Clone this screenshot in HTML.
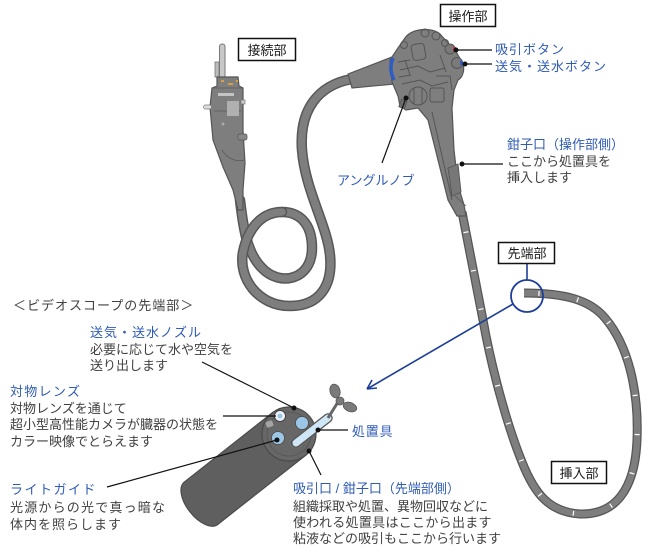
<!DOCTYPE html>
<html><head><meta charset="utf-8">
<style>
html,body{margin:0;padding:0;background:#fff;}
svg{display:block;}
text{font-family:"Liberation Sans","Noto Sans CJK JP",sans-serif;font-size:13px;}
.b{fill:#2f5bb5;}
.g{fill:#404040;}
.k{fill:#1a1a1a;}
</style></head><body>
<svg width="650" height="550" viewBox="0 0 650 550" xmlns="http://www.w3.org/2000/svg">
<!-- universal cord -->
<g fill="none" stroke-linecap="round">
<path d="M 240 200 C 243 225, 246 252, 262 268 C 280 287, 312 280, 312 248 C 312 222, 298 212, 282 212" stroke="#575757" stroke-width="10.5"/>
<path d="M 240 200 C 243 225, 246 252, 262 268 C 280 287, 312 280, 312 248 C 312 222, 298 212, 282 212" stroke="#7e7e7e" stroke-width="7.5"/>
<path d="M 282 212 C 262 212, 248 228, 243 252 C 238 278, 258 306, 290 306 C 320 306, 333 285, 330 255 C 327 225, 305 190, 302 150 C 299 110, 318 85, 352 79" stroke="#575757" stroke-width="10.5"/>
<path d="M 282 212 C 262 212, 248 228, 243 252 C 238 278, 258 306, 290 306 C 320 306, 333 285, 330 255 C 327 225, 305 190, 302 150 C 299 110, 318 85, 352 79" stroke="#7e7e7e" stroke-width="7.5"/>
</g>
<!-- insertion tube -->
<g fill="none" stroke-linecap="butt">
<path d="M 462 212 L 483 320 C 490 360, 505 420, 522 462 C 535 495, 550 512, 580 514 C 615 515, 635 490, 637 440 C 639 390, 628 345, 605 318 C 590 300, 565 293, 524 293" stroke="#555" stroke-width="9"/>
<path d="M 462 212 L 483 320 C 490 360, 505 420, 522 462 C 535 495, 550 512, 580 514 C 615 515, 635 490, 637 440 C 639 390, 628 345, 605 318 C 590 300, 565 293, 524 293" stroke="#7e7e7e" stroke-width="6.5"/>
<path d="M 462 212 L 483 320 C 490 360, 505 420, 522 462 C 535 495, 550 512, 580 514 C 615 515, 635 490, 637 440 C 639 390, 628 345, 605 318 C 590 300, 565 293, 524 293" stroke="#fff" stroke-width="5" stroke-dasharray="1.2 38" stroke-dashoffset="-20"/>
</g>
<!-- connector -->
<rect x="219.5" y="44" width="5.5" height="34" rx="2.5" fill="#c8c8c8" stroke="#777"/>
<rect x="215" y="62" width="4" height="15" fill="#bbb" stroke="#777" stroke-width="0.8"/>
<path d="M 217 77 L 238 77 L 239 86 L 243 88 L 243 130 L 245 163 L 243 190 L 243 210 L 238 210 L 233 190 L 223 167 L 213 140 L 210 107 L 212 88 L 217 86 Z" fill="#7e7e7e" stroke="#555" stroke-width="1.2"/>
<path d="M 212 88 L 243 88 M 214 111 L 241 111 M 222 150 C 228 160, 238 162, 244 160" stroke="#5a5a5a" stroke-width="0.8" fill="none"/>
<rect x="218" y="93" width="16" height="3" fill="#c4c4c4"/>
<rect x="227" y="101" width="12" height="15" fill="#b0b0b0"/>
<rect x="221" y="80" width="3" height="2" fill="#d8a040"/>
<rect x="228" y="83" width="5" height="2" fill="#d8a040"/>
<rect x="236" y="80" width="2" height="2" fill="#d8a040"/>
<rect x="203.5" y="105" width="8" height="4" rx="2" fill="#ddd" stroke="#777" stroke-width="0.7"/>
<rect x="241" y="100" width="4" height="4" fill="#ccc" stroke="#777" stroke-width="0.7"/>
<rect x="238" y="134" width="9" height="6" rx="2" fill="#888" stroke="#555" stroke-width="0.8"/>
<circle cx="223" cy="124" r="1.5" fill="#aaa"/>
<!-- control section -->
<polygon points="348,74 392,57 395,84 352,88" fill="#7e7e7e" stroke="#555" stroke-width="1.2"/>
<path d="M 405 38 C 412 28, 432 27, 440 34 L 449 44 L 455 50 L 462 62 C 466 70, 462 78, 458 80 L 454 90 L 452 108 L 454 150 L 458 185 L 464 205 L 466 216 L 457 216 L 448 200 L 428 120 L 418 108 L 406 110 L 400 106 L 398 96 L 392 82 L 390 60 L 398 48 Z" fill="#7e7e7e" stroke="#555" stroke-width="1.2"/>
<path d="M 393 58 C 390 65, 390 72, 394 80" stroke="#2d5cc4" stroke-width="3.5" fill="none"/>
<g fill="none" stroke="#555" stroke-width="1">
<rect x="412" y="44" width="13" height="16" rx="3" transform="rotate(-10 418 52)"/>
<path d="M 400 70 L 418 66 L 430 72 L 445 68"/>
<path d="M 402 84 L 420 80 L 432 86 L 448 82"/>
<path d="M 398 62 L 410 60 M 399 77 L 411 75"/>
<circle cx="418" cy="96" r="9"/>
<path d="M 414 88 L 414 104 M 422 88 L 422 104"/>
<rect x="430" y="88" width="14" height="14" rx="2"/>
<circle cx="425" cy="33" r="4"/>
<circle cx="436" cy="36" r="4"/>
<circle cx="445" cy="43" r="3.5"/>
<circle cx="404" cy="45" r="3.5"/>
<path d="M 432 112 L 452 200"/>
<path d="M 405 60 L 410 75 M 440 55 L 446 72"/>
<path d="M 436 76 L 450 76 L 452 90"/>
</g>
<rect x="400" y="100" width="6" height="8" fill="#6e6e6e" stroke="#555" stroke-width="0.8" transform="rotate(20 403 104)"/>
<circle cx="450" cy="49" r="5" fill="#7a7a7a" stroke="#555"/>
<rect x="453" y="47" width="3" height="4" fill="#e03040"/>
<circle cx="457" cy="63" r="5.5" fill="#7a7a7a" stroke="#555"/>
<rect x="460" y="61" width="3" height="4" fill="#2d5cc4"/>
<path d="M 448 168 L 458 164 L 461 192 L 452 196 Z" fill="#777" stroke="#555" stroke-width="0.9"/>
<path d="M 455 196 L 466 206" stroke="#555" stroke-width="0.8"/>
<!-- tip illustration -->
<g transform="translate(289,434) rotate(141.8)">
<path d="M 0 -27 L 112 -27 A 14 27 0 0 1 112 27 L 0 27 Z" fill="#5f5f5f" stroke="#4a4a4a" stroke-width="1.2"/>
<circle cx="0" cy="0" r="27" fill="#676767" stroke="#4a4a4a" stroke-width="1.2"/>
<circle cx="0" cy="0" r="22" fill="none" stroke="#555" stroke-width="0.8"/>
</g>
<rect x="266" y="421" width="7" height="6" rx="1.5" fill="#a5a5a5" transform="rotate(-20 269.5 424)"/>
<circle cx="302" cy="423" r="6.5" fill="#9cc6e6" stroke="#4a4a4a" stroke-width="0.8"/>
<circle cx="278" cy="438" r="6.5" fill="#9cc6e6" stroke="#4a4a4a" stroke-width="0.8"/>
<circle cx="280" cy="416" r="5.5" fill="#e6eef5" stroke="#333" stroke-width="0.8"/>
<circle cx="280" cy="416" r="3" fill="#9cc6e6" stroke="#fff" stroke-width="0.8"/>
<ellipse cx="296" cy="443" rx="6" ry="4.5" fill="#4a4a4a" stroke="#777" stroke-width="0.8"/>
<path d="M 296 443 L 328 418" stroke="#555" stroke-width="9.5" stroke-linecap="round"/>
<path d="M 296 443 L 328 418" stroke="#cfe6f7" stroke-width="7" stroke-linecap="round"/>
<path d="M 328 418 L 338 402" stroke="#666" stroke-width="3"/>
<ellipse cx="335" cy="391" rx="5" ry="7" fill="#7a7a7a" stroke="#555" stroke-width="0.8" transform="rotate(-15 335 391)"/>
<ellipse cx="350" cy="407" rx="7" ry="4.5" fill="#7a7a7a" stroke="#555" stroke-width="0.8" transform="rotate(20 350 407)"/>
<circle cx="340" cy="401" r="4" fill="#7a7a7a" stroke="#555" stroke-width="0.8"/>
<!-- blue marker -->
<circle cx="527" cy="296" r="16" fill="none" stroke="#1d3e99" stroke-width="1.8"/>
<path d="M 527 263 L 527 280 M 513 304 L 367 389 M 367 389 L 377 388 M 367 389 L 372 380" stroke="#1d3e99" stroke-width="1.6" fill="none"/>
<!-- leader lines -->
<g stroke="#111" stroke-width="1.2" fill="none">
<path d="M 456 50 L 492 50"/>
<path d="M 465 64 L 492 64"/>
<path d="M 462 164 L 503 164"/>
<path d="M 406 98 L 382 163"/>
<path d="M 202 362 L 294 408"/>
<path d="M 223 416 L 276 416"/>
<path d="M 107 487 L 277 440"/>
<path d="M 318 430 L 348 430"/>
<path d="M 309 451 L 321 475"/>
</g>
<g fill="#111">
<circle cx="456" cy="50" r="2.5"/><circle cx="465" cy="64" r="2.5"/><circle cx="462" cy="164" r="2.5"/>
<circle cx="406" cy="98" r="2.5"/><circle cx="294" cy="408" r="2.5"/><circle cx="277" cy="440" r="2.5"/>
<circle cx="318" cy="430" r="2.5"/><circle cx="309" cy="451" r="2.5"/>
</g>
<!-- boxes -->
<g fill="#fff" stroke="#111" stroke-width="1.5">
<rect x="238.5" y="38.5" width="57" height="22"/>
<rect x="440.5" y="4.5" width="55" height="22"/>
<rect x="498.5" y="242.5" width="56" height="21"/>
<rect x="551.5" y="461.5" width="55" height="22"/>
</g>
<g class="k" text-anchor="middle">
<text x="267" y="55">接続部</text>
<text x="468" y="21">操作部</text>
<text x="527" y="258">先端部</text>
<text x="579" y="478">挿入部</text>
</g>
<!-- labels -->
<text class="b" x="495" y="54" letter-spacing="1">吸引ボタン</text>
<text class="b" x="495" y="71" letter-spacing="1">送気・送水ボタン</text>
<text class="b" x="507" y="149">鉗子口（操作部側）</text>
<text class="g" x="507" y="166">ここから処置具を</text>
<text class="g" x="507" y="182">挿入します</text>
<text class="b" x="337" y="185">アングルノブ</text>
<text class="g" x="13" y="310" letter-spacing="1">＜ビデオスコープの先端部＞</text>
<text class="b" x="90" y="337" letter-spacing="1">送気・送水ノズル</text>
<text class="g" x="90" y="354">必要に応じて水や空気を</text>
<text class="g" x="90" y="370">送り出します</text>
<text class="b" x="10" y="396" letter-spacing="1.3">対物レンズ</text>
<text class="g" x="10" y="413">対物レンズを通じて</text>
<text class="g" x="10" y="429">超小型高性能カメラが臓器の状態を</text>
<text class="g" x="10" y="446">カラー映像でとらえます</text>
<text class="b" x="10" y="494" letter-spacing="1.5">ライトガイド</text>
<text class="g" x="10" y="512" letter-spacing="1.2">光源からの光で真っ暗な</text>
<text class="g" x="10" y="529" letter-spacing="1">体内を照らします</text>
<text class="b" x="352" y="436" letter-spacing="0.8">処置具</text>
<text class="b" x="293" y="493">吸引口 / 鉗子口（先端部側）</text>
<text class="g" x="293" y="511">組織採取や処置、異物回収などに</text>
<text class="g" x="293" y="527" letter-spacing="0.3">使われる処置具はここから出ます</text>
<text class="g" x="293" y="543">粘液などの吸引もここから行います</text>
</svg>
</body></html>
